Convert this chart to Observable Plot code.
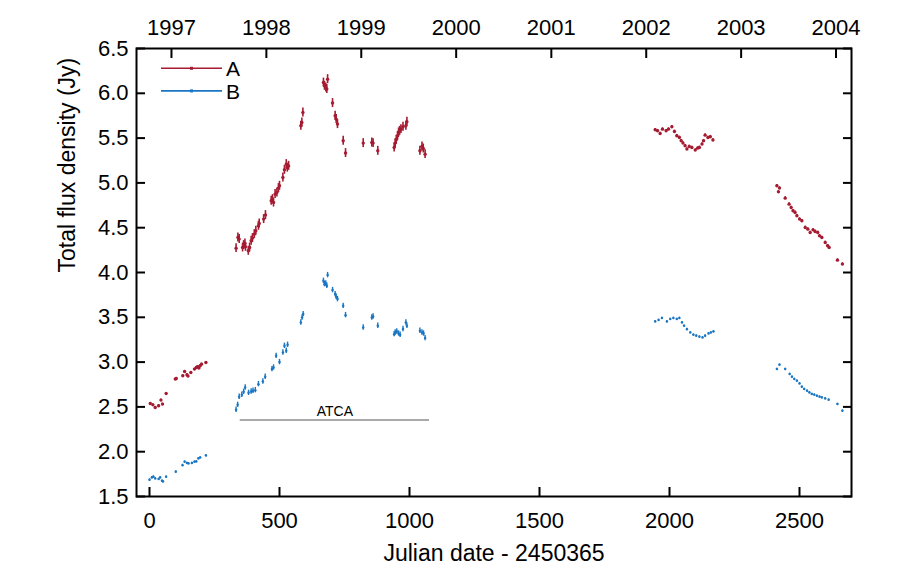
<!DOCTYPE html>
<html><head><meta charset="utf-8">
<script src="https://cdn.jsdelivr.net/npm/d3@7"></script>
<script src="https://cdn.jsdelivr.net/npm/@observablehq/plot@0.6"></script>
<style>body{margin:0;background:#fff} svg{display:block}</style>
</head><body><div id="chart"></div>
<script>
// [day (JD - 2450365), total flux density (Jy), error (Jy)]
const seriesA = [
  [3,2.538,0.012],[13,2.523,0.012],[22,2.493,0.012],[35,2.512,0.012],[44,2.576,0.012],[50,2.531,0.012],[64,2.65,0.012],
  [99,2.81,0.012],[103,2.817,0.012],[128,2.847,0.012],[135,2.895,0.012],[144,2.858,0.012],[148,2.844,0.012],[159,2.884,0.012],
  [173,2.922,0.012],[180,2.94,0.012],[185,2.948,0.012],[190,2.933,0.012],[195,2.959,0.012],[200,2.977,0.012],[217,2.996,0.012],
  [333,4.272,0.05],[340,4.391,0.05],[345,4.373,0.05],[358,4.279,0.05],[362,4.306,0.05],[367,4.324,0.05],[369,4.287,0.05],
  [380,4.242,0.05],[385,4.279,0.05],[391,4.354,0.05],[396,4.384,0.05],[403,4.428,0.05],[409,4.465,0.05],[419,4.521,0.05],
  [422,4.547,0.05],[439,4.596,0.05],[446,4.641,0.05],[468,4.80,0.05],[473,4.819,0.05],[477,4.781,0.05],[483,4.875,0.05],
  [490,4.893,0.05],[496,4.942,0.05],[500,4.968,0.05],[513,5.06,0.05],[519,5.146,0.05],[526,5.21,0.05],[530,5.17,0.05],
  [535,5.19,0.05],[582,5.637,0.05],[586,5.674,0.05],[590,5.786,0.05],[669,6.12,0.05],[673,6.084,0.05],[678,6.065,0.05],
  [682,6.047,0.05],[685,6.158,0.05],[704,5.891,0.05],[714,5.749,0.05],[718,5.712,0.05],[723,5.656,0.05],[745,5.47,0.05],
  [754,5.333,0.05],[822,5.444,0.05],[855,5.451,0.05],[860,5.444,0.05],[878,5.358,0.05],[941,5.395,0.05],[945,5.444,0.05],
  [949,5.481,0.05],[954,5.526,0.05],[958,5.563,0.05],[962,5.581,0.05],[967,5.60,0.05],[975,5.626,0.05],[986,5.637,0.05],
  [990,5.682,0.05],[1040,5.358,0.05],[1048,5.406,0.05],[1053,5.384,0.05],[1060,5.321,0.05],
  [1945,5.593,0.015],[1954,5.582,0.015],[1964,5.551,0.015],[1973,5.60,0.015],[1987,5.582,0.015],[1996,5.60,0.015],
  [2009,5.626,0.015],[2019,5.574,0.015],[2028,5.526,0.015],[2038,5.507,0.015],[2045,5.47,0.015],[2052,5.444,0.015],
  [2060,5.414,0.015],[2067,5.377,0.015],[2076,5.406,0.015],[2086,5.395,0.015],[2099,5.366,0.015],[2108,5.388,0.015],
  [2115,5.395,0.015],[2125,5.433,0.015],[2131,5.47,0.015],[2137,5.533,0.015],[2148,5.507,0.015],[2157,5.515,0.015],
  [2167,5.478,0.015],
  [2413,4.968,0.015],[2419,4.90,0.015],[2423,4.942,0.015],[2445,4.83,0.015],[2460,4.763,0.015],[2468,4.725,0.015],
  [2475,4.689,0.015],[2483,4.67,0.015],[2490,4.633,0.015],[2500,4.596,0.015],[2509,4.577,0.015],[2522,4.502,0.015],
  [2532,4.484,0.015],[2541,4.446,0.015],[2552,4.476,0.015],[2560,4.458,0.015],[2570,4.446,0.015],[2577,4.409,0.015],
  [2586,4.39,0.015],[2599,4.335,0.015],[2608,4.298,0.015],[2614,4.279,0.015],[2646,4.138,0.015],[2665,4.094,0.015]
];
const seriesB = [
  [0,1.686,0.01],[9,1.712,0.01],[15,1.72,0.01],[22,1.701,0.01],[35,1.694,0.01],[41,1.712,0.01],[48,1.675,0.01],
  [52,1.667,0.01],[64,1.72,0.01],[101,1.776,0.01],[127,1.85,0.01],[135,1.887,0.01],[144,1.873,0.01],[150,1.868,0.01],
  [163,1.873,0.01],[173,1.887,0.01],[180,1.891,0.01],[188,1.924,0.01],[195,1.935,0.01],[217,1.958,0.01],
  [333,2.468,0.03],[339,2.523,0.03],[345,2.613,0.03],[355,2.635,0.03],[362,2.669,0.03],[368,2.717,0.03],[381,2.657,0.03],
  [391,2.672,0.03],[398,2.68,0.03],[407,2.687,0.03],[419,2.754,0.03],[436,2.784,0.03],[445,2.836,0.03],[471,2.922,0.03],
  [477,2.94,0.03],[487,3.07,0.03],[500,3.0,0.03],[513,3.107,0.03],[519,3.182,0.03],[526,3.126,0.03],[531,3.193,0.03],
  [582,3.442,0.03],[587,3.498,0.03],[591,3.536,0.03],[669,3.907,0.03],[673,3.87,0.03],[678,3.877,0.03],[682,3.852,0.03],
  [685,3.971,0.03],[704,3.804,0.03],[714,3.759,0.03],[718,3.729,0.03],[723,3.703,0.03],[745,3.628,0.03],[754,3.524,0.03],
  [822,3.386,0.03],[855,3.498,0.03],[860,3.509,0.03],[878,3.405,0.03],[941,3.312,0.03],[945,3.33,0.03],[951,3.342,0.03],
  [958,3.319,0.03],[964,3.305,0.03],[975,3.369,0.03],[986,3.442,0.03],[990,3.405,0.03],[1040,3.35,0.03],[1048,3.33,0.03],
  [1054,3.319,0.03],[1060,3.268,0.03],
  [1945,3.453,0.01],[1958,3.469,0.01],[1971,3.491,0.01],[1990,3.453,0.01],[2003,3.48,0.01],[2015,3.491,0.01],
  [2028,3.48,0.01],[2038,3.491,0.01],[2048,3.442,0.01],[2056,3.405,0.01],[2067,3.368,0.01],[2080,3.33,0.01],
  [2092,3.305,0.01],[2103,3.294,0.01],[2115,3.283,0.01],[2127,3.275,0.01],[2137,3.294,0.01],[2150,3.319,0.01],
  [2159,3.33,0.01],[2169,3.342,0.01],
  [2413,2.922,0.01],[2423,2.97,0.01],[2445,2.922,0.01],[2462,2.866,0.01],[2471,2.836,0.01],[2480,2.81,0.01],
  [2490,2.791,0.01],[2500,2.761,0.01],[2509,2.724,0.01],[2518,2.699,0.01],[2529,2.68,0.01],[2538,2.661,0.01],
  [2547,2.643,0.01],[2557,2.635,0.01],[2567,2.624,0.01],[2577,2.613,0.01],[2586,2.605,0.01],[2599,2.594,0.01],
  [2612,2.579,0.01],[2646,2.531,0.01],[2665,2.456,0.01]
];
const years = [1997, 1998, 1999, 2000, 2001, 2002, 2003, 2004];
const xTicks = [0, 500, 1000, 1500, 2000, 2500];
const yTicks = [1.5, 2.0, 2.5, 3.0, 3.5, 4.0, 4.5, 5.0, 5.5, 6.0, 6.5];
const atca = [{start: 349, end: 1077, flux: 2.353, label: "ATCA"}];
const seriesNames = ["A", "B"];
const colors = ["#a51b31", "#1a76c2"];
const xLabel = "Julian date - 2450365";
const yLabel = "Total flux density (Jy)";

const JD0 = 2450365;
const yearDays = years.map(y => Date.UTC(y, 0, 1) / 86400000 + 2440587.5 - JD0);
const yearOf = new Map(yearDays.map((d, i) => [d, String(years[i])]));

const rows = [
  ...seriesA.map(([day, flux, err]) => ({s: "A", day, flux, err})),
  ...seriesB.map(([day, flux, err]) => ({s: "B", day, flux, err}))
];

const font = "'Liberation Sans', Arial, Helvetica, sans-serif";
const plot = Plot.plot({
  width: 897, height: 571,
  marginLeft: 136, marginRight: 46, marginTop: 48, marginBottom: 75,
  style: {fontFamily: font, fontSize: "22px", color: "#000", background: "#fff", overflow: "visible"},
  x: {domain: [-50, 2700]},
  y: {domain: [1.5, 6.5]},
  r: {type: "identity"},
  color: {domain: seriesNames, range: colors},
  marks: [
    Plot.ruleY(atca, {y: "flux", x1: "start", x2: "end", stroke: "#8c8c8c", strokeWidth: 1.5}),
    Plot.text(atca, {x: d => (d.start + d.end) / 2, y: "flux", text: "label", dy: -4, lineAnchor: "bottom", fontSize: 14}),
    Plot.ruleX(rows, {x: "day", y1: d => d.flux - d.err, y2: d => d.flux + d.err, stroke: "s", strokeWidth: d => d.s === "A" ? 1.6 : 1.4}),
    Plot.dot(rows, {x: "day", y: "flux", fill: "s", r: d => d.s === "A" ? 1.7 : 1.25, stroke: null}),
    Plot.axisX(xTicks, {anchor: "bottom", tickSize: -9, tickPadding: 25, strokeWidth: 2, label: null, fontSize: 22, tickFormat: d => String(d)}),
    Plot.axisX(yearDays, {anchor: "top", tickSize: -9, tickPadding: 23, strokeWidth: 2, label: null, fontSize: 22, tickFormat: d => yearOf.get(d)}),
    Plot.axisY(yTicks, {anchor: "left", tickSize: -9, tickPadding: 17, strokeWidth: 2, label: null, fontSize: 22, tickFormat: d => d.toFixed(1)}),
    Plot.axisY(yTicks, {anchor: "right", tickSize: -9, tickPadding: 0, strokeWidth: 2, label: null, tickFormat: () => ""}),
    Plot.text([xLabel], {frameAnchor: "bottom", dy: 57, fontSize: 23, lineAnchor: "middle"}),
    Plot.text([yLabel], {frameAnchor: "left", dx: -69, rotate: -90, fontSize: 23, lineAnchor: "middle"}),
    Plot.frame({strokeWidth: 2, stroke: "#000"})
  ]
});

// legend (inside top-left of the frame)
const svg = d3.select(plot);
const leg = svg.append("g").attr("font-family", font).attr("font-size", 21);
seriesNames.forEach((name, i) => {
  const y = 68.3 + i * 22.6;
  leg.append("line").attr("x1", 161).attr("x2", 222).attr("y1", y).attr("y2", y)
    .attr("stroke", colors[i]).attr("stroke-width", 1.6);
  leg.append("rect").attr("x", 190).attr("y", y - 1.5).attr("width", 3).attr("height", 3).attr("fill", colors[i]);
  leg.append("text").attr("x", 233).attr("y", y + 7.8).text(name);
});
document.getElementById("chart").append(plot);
</script>
</body></html>
